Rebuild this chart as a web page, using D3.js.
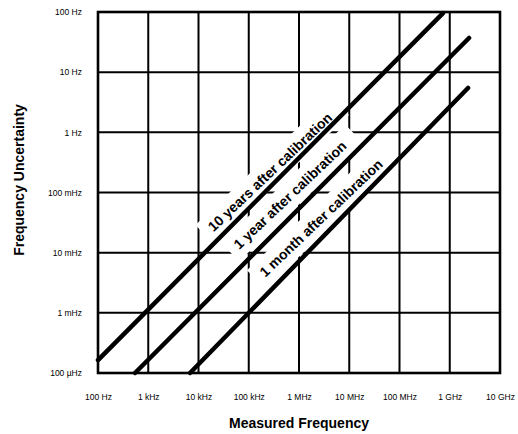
<!DOCTYPE html>
<html>
<head>
<meta charset="utf-8">
<script src="https://cdn.jsdelivr.net/npm/d3@7/dist/d3.min.js"></script>
<style>
  html, body { margin: 0; padding: 0; background: #fff; }
  svg { display: block; }
</style>
</head>
<body>
<svg id="chart" width="518" height="434"></svg>
<script>
// ---------- data ----------
const xTickValues = [1e2, 1e3, 1e4, 1e5, 1e6, 1e7, 1e8, 1e9, 1e10];
const xTickLabels = ["100 Hz", "1 kHz", "10 kHz", "100 kHz", "1 MHz", "10 MHz", "100 MHz", "1 GHz", "10 GHz"];
const yTickValues = [1e-4, 1e-3, 1e-2, 1e-1, 1, 10, 100];
const yTickLabels = ["100 µHz", "1 mHz", "10 mHz", "100 mHz", "1 Hz", "10 Hz", "100 Hz"];

const curveNames = ["10 years after calibration", "1 year after calibration", "1 month after calibration"];
const curveStartFreq = [100, 545, 6.78e3];
const curveStartUnc  = [1.64e-4, 1e-4, 1e-4];
const curveEndFreq   = [7.35e8, 2.42e9, 2.31e9];
const curveEndUnc    = [96, 37, 5.46];
// label centre positions (data coordinates)
const labelFreq = [2.65e5, 6.62e5, 2.74e6];
const labelUnc  = [0.219, 0.0908, 0.0377];

const xTitle = "Measured Frequency";
const yTitle = "Frequency Uncertainty";

// ---------- layout ----------
const svg = d3.select("#chart");
const mLeft = 98, mRight = 500, mTop = 12, mBottom = 373;
const x = d3.scaleLog().domain([1e2, 1e10]).range([mLeft, mRight]);
const y = d3.scaleLog().domain([1e-4, 1e2]).range([mBottom, mTop]);

const FONT = "'Liberation Sans', Arial, Helvetica, sans-serif";

const gridLayer = svg.append("g");
const maskLayer = svg.append("g");
const curveLayer = svg.append("g");
const textLayer = svg.append("g");

// grid
const grid = gridLayer.append("g").attr("stroke", "#000").attr("stroke-width", 2);
grid.selectAll("line.v").data(xTickValues).join("line").attr("class", "v")
  .attr("x1", d => x(d)).attr("x2", d => x(d))
  .attr("y1", mTop).attr("y2", mBottom);
grid.selectAll("line.h").data(yTickValues).join("line").attr("class", "h")
  .attr("y1", d => y(d)).attr("y2", d => y(d))
  .attr("x1", mLeft).attr("x2", mRight);
gridLayer.append("rect").attr("x", mLeft).attr("y", mTop)
  .attr("width", mRight - mLeft).attr("height", mBottom - mTop)
  .attr("fill", "none").attr("stroke", "#000").attr("stroke-width", 2.6);

// axes (labels only)
const xAxis = d3.axisBottom(x).tickValues(xTickValues)
  .tickFormat((d, i) => xTickLabels[i]).tickSize(0).tickPadding(0);
const gx = gridLayer.append("g").attr("transform", `translate(0, ${mBottom + 24})`).call(xAxis);
gx.select(".domain").remove();
gx.selectAll("text").attr("font-family", FONT).attr("font-size", 8.5).attr("fill", "#000")
  .attr("y", 0).attr("dy", "0.35em");

const yAxis = d3.axisLeft(y).tickValues(yTickValues)
  .tickFormat((d, i) => yTickLabels[i]).tickSize(0).tickPadding(0);
const gy = gridLayer.append("g").attr("transform", `translate(${mLeft - 16}, 0)`).call(yAxis);
gy.select(".domain").remove();
gy.selectAll("text").attr("font-family", FONT).attr("font-size", 8.5).attr("fill", "#000");

// curve labels (text layer) and their white masks (mask layer)
const angle = -43.5;
const tf = i => `translate(${x(labelFreq[i])}, ${y(labelUnc[i])}) rotate(${angle})`;
const labelGroups = textLayer.selectAll("g").data(curveNames).join("g")
  .attr("transform", (d, i) => tf(i));
labelGroups.append("text")
  .attr("text-anchor", "middle").attr("dy", "0.35em")
  .attr("font-family", FONT).attr("font-weight", "bold").attr("font-size", 14)
  .attr("fill", "#000").text(d => d);
labelGroups.each(function (d, i) {
  const len = d3.select(this).select("text").node().getComputedTextLength();
  maskLayer.append("rect")
    .attr("transform", tf(i))
    .attr("x", -len / 2 - 8).attr("y", -13)
    .attr("width", len + 22).attr("height", 26)
    .attr("fill", "#fff");
});

// curves
const lineGen = d3.line().x(d => x(d[0])).y(d => y(d[1]));
const curves = curveNames.map((n, i) => [[curveStartFreq[i], curveStartUnc[i]], [curveEndFreq[i], curveEndUnc[i]]]);
curveLayer.selectAll("path").data(curves).join("path")
  .attr("d", lineGen).attr("fill", "none").attr("stroke", "#000")
  .attr("stroke-width", 4.5).attr("stroke-linecap", "round");

// axis titles
svg.append("text").attr("x", (mLeft + mRight) / 2).attr("y", 428)
  .attr("text-anchor", "middle").attr("font-family", FONT).attr("font-weight", "bold")
  .attr("font-size", 14).attr("fill", "#000").text(xTitle);
svg.append("text").attr("transform", "translate(24, 180) rotate(-90)")
  .attr("text-anchor", "middle").attr("font-family", FONT).attr("font-weight", "bold")
  .attr("font-size", 14).attr("fill", "#000").text(yTitle);
</script>
</body>
</html>
